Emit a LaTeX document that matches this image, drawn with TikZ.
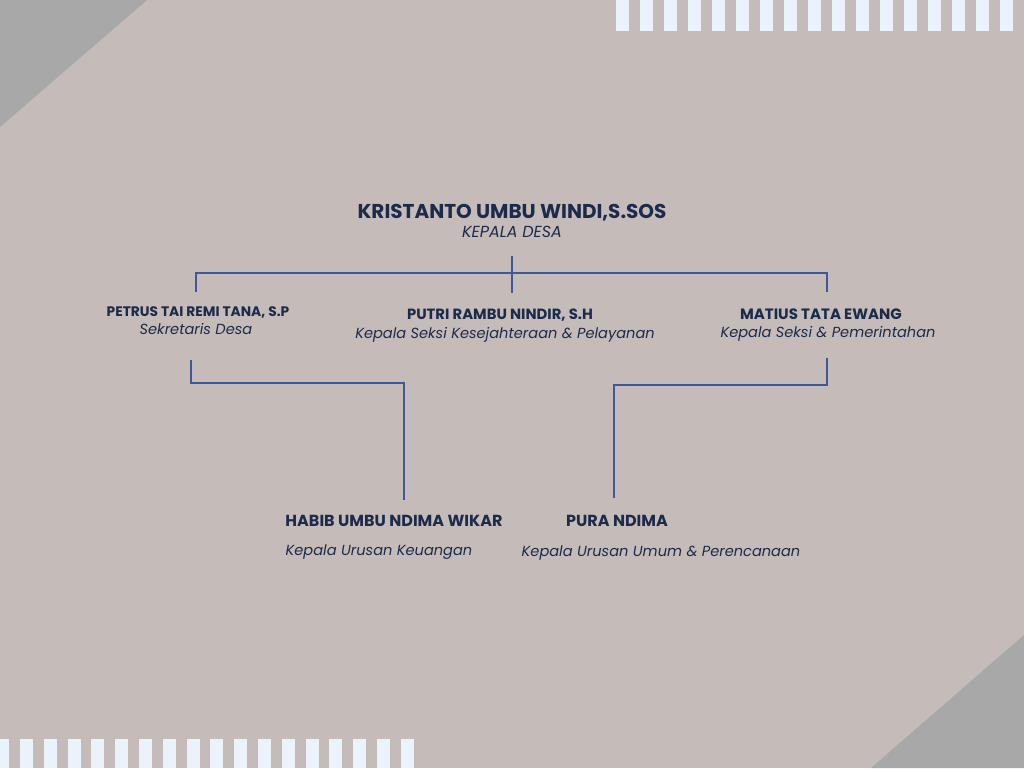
\documentclass[tikz,border=0pt]{standalone}
\usepackage{fontspec}
\setmainfont{Poppins}
\usepackage{xcolor}
\usetikzlibrary{positioning}

\definecolor{bgrose}{HTML}{C5BBB8}
\definecolor{cornergray}{HTML}{A8A8A8}
\definecolor{stripewhite}{HTML}{EAF2FA}
\definecolor{navy}{HTML}{1C2B4B}
\definecolor{linkblue}{HTML}{3D5A98}

\tikzset{
	headname/.style={anchor=base, inner sep=0pt, text=navy, font=\fontsize{20}{24}\selectfont\bfseries},
	pname/.style={anchor=base, inner sep=0pt, text=navy, font=\fontsize{14.8}{17}\selectfont\bfseries},
	prole/.style={anchor=base, inner sep=0pt, text=navy, font=\fontsize{14.6}{17}\selectfont\itshape},
	link/.style={draw=linkblue, line width=2pt}
}

\begin{document}
\begin{tikzpicture}[x=1pt, y=-1pt]
	% background and corners
	\fill[bgrose] (0,0) rectangle (1024,768);
	\useasboundingbox (0,0) rectangle (1024,768);
	\fill[cornergray] (0,0) -- (147,0) -- (0,127) -- cycle;
	\fill[cornergray] (1024,635) -- (1024,768) -- (871,768) -- cycle;
	\foreach \i in {0,...,16}
		\fill[stripewhite] (616+24*\i,0) rectangle ++(13,31);
	\foreach \i in {0,...,17}
		\fill[stripewhite] (-3.8+23.8*\i,739) rectangle ++(13,29);
	%
	% people
	\node[headname] (kades) at (512,218) {KRISTANTO UMBU WINDI,S.SOS};
	\node[prole, font=\fontsize{16}{19}\selectfont\itshape] (kadesrole) at (512,237) {KEPALA DESA};
	%
	\node[pname, font=\fontsize{13.8}{16}\selectfont\bfseries] (sekdes) at (198,316) {PETRUS TAI REMI TANA, S.P};
	\node[prole] (sekdesrole) at (196,334) {Sekretaris Desa};
	%
	\node[pname] (kasikesra) at (500,319) {PUTRI RAMBU NINDIR, S.H};
	\node[prole] (kasikesrarole) at (505,338) {Kepala Seksi Kesejahteraan \& Pelayanan};
	%
	\node[pname, font=\fontsize{15}{17}\selectfont\bfseries] (kasipem) at (821,319) {MATIUS TATA EWANG};
	\node[prole] (kasipemrole) at (828,337) {Kepala Seksi \& Pemerintahan};
	%
	\node[pname, font=\fontsize{16}{19}\selectfont\bfseries] (kaurkeu) at (394,526) {HABIB UMBU NDIMA WIKAR};
	\node[prole] (kaurkeurole) at (379,555) {Kepala Urusan Keuangan};
	%
	\node[pname, font=\fontsize{16}{19}\selectfont\bfseries] (kaurum) at (617,526) {PURA NDIMA};
	\node[prole] (kaurumrole) at (661,556) {Kepala Urusan Umum \& Perencanaan};
	%
	% connectors
	\coordinate (hubtop) at (512,256);
	\coordinate (hubbot) at (512,293);
	\coordinate (barL) at (196,273);
	\coordinate (barR) at (827,273);
	\coordinate (sekin) at (196,292);
	\coordinate (pemin) at (827,292);
	\coordinate (sekout) at (191,360);
	\coordinate (keuin) at (404,500);
	\coordinate (pemout) at (827,358);
	\coordinate (umumin) at (614,498);
	%
	\draw[link] (hubtop) -- (hubbot);
	\draw[link] (sekin) -- (barL) -- (barR) -- (pemin);
	\draw[link] (sekout) -- ++(0,23) -| (keuin);
	\draw[link] (pemout) -- ++(0,27) -| (umumin);
\end{tikzpicture}
\end{document}
